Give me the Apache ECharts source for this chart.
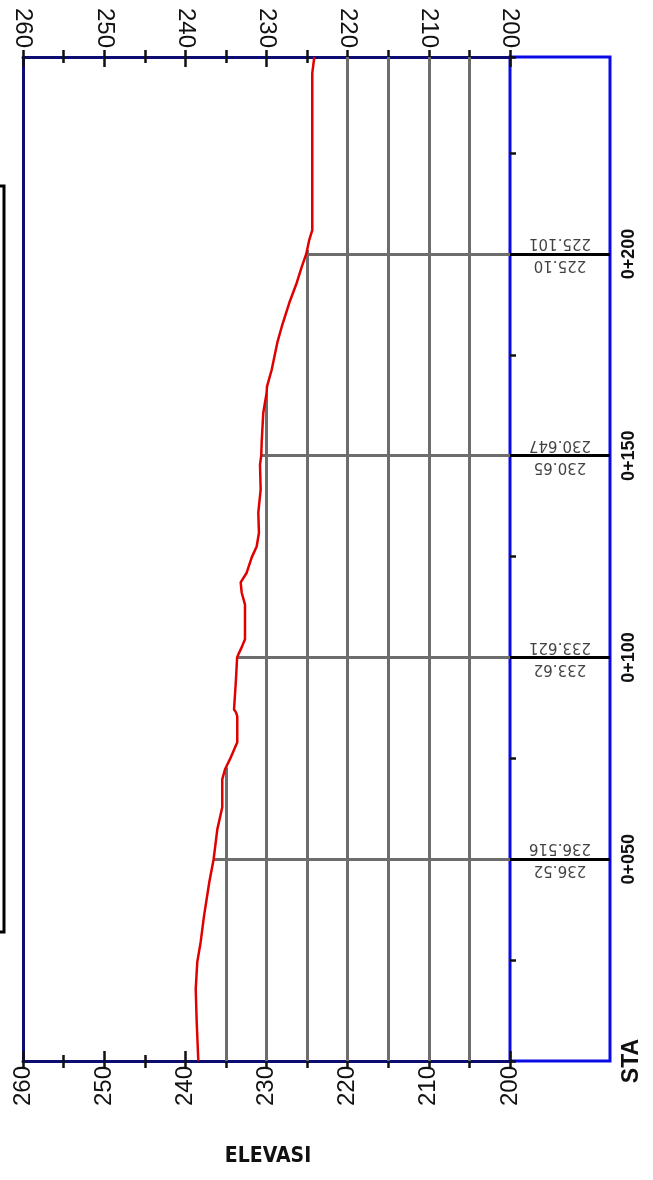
<!DOCTYPE html>
<html>
<head>
<meta charset="utf-8">
<script src="https://cdn.jsdelivr.net/npm/echarts@6/dist/echarts.min.js"></script>
<style>
  html, body { margin: 0; padding: 0; background: #ffffff; }
  #chart { width: 653px; height: 1180px; }
</style>
</head>
<body>
<div id="chart"></div>
<script>
// Long section of existing ground: chainage (m) against elevation (m)
const stations = [
  0, 9.65, 17.8, 24.5, 29.5, 35.9, 44.3, 50,
  57.4, 62.9, 69.8, 72.3, 74.8, 79.0, 85.4, 86.4, 87.1, 94.6,
  100, 100.7, 102.5, 104.5, 113.1, 116.1, 118.6, 121.0, 124.8, 127.5,
  130.9, 135.9, 141.6, 147.8, 150, 153.5, 160.6, 163.1, 165.6, 167.1,
  171.3, 178.0, 181.9, 187.9, 192.8, 196.8, 200, 203.5, 205.9, 244.8,
  248.8
];
const groundElevations = [
  238.40, 238.60, 238.72, 238.53, 238.11, 237.70, 237.05, 236.516,
  236.06, 235.45, 235.45, 235.11, 234.50, 233.60, 233.60, 233.76, 234.00, 233.76,
  233.621, 233.48, 233.06, 232.65, 232.65, 233.06, 233.18, 232.44, 231.82, 231.21,
  230.93, 231.01, 230.72, 230.80, 230.647, 230.59, 230.40, 230.19, 229.98, 229.94,
  229.36, 228.67, 228.13, 227.19, 226.28, 225.66, 225.101, 224.73, 224.36, 224.36,
  224.11
];

// Chainages written in the data band, with the ground level read there
const labelStations = [50, 100, 150, 200];
const labelElevations = [236.516, 233.621, 230.647, 225.101];

// Elevation grid hatched below the ground line
const gridLevels = [205, 210, 215, 220, 225, 230, 235];

const ELEV_MIN = 200, ELEV_MAX = 260, ELEV_STEP = 10;
const STA_MIN = 0, STA_MAX = 248.8;

const NAVY = '#0c0c72';
const BLUE = '#0a0ae6';
const GREY = '#6d6d6d';
const INK = '#111111';

// Chainage stretches where the ground stands above a given level
function stretchesAbove(level) {
  const out = [];
  let start = groundElevations[0] > level ? stations[0] : null;
  for (let i = 1; i < stations.length; i++) {
    const e0 = groundElevations[i - 1], e1 = groundElevations[i];
    const s0 = stations[i - 1], s1 = stations[i];
    if ((e0 > level) !== (e1 > level)) {
      const s = s0 + (level - e0) / (e1 - e0) * (s1 - s0);
      if (e1 > level) start = s;
      else { out.push([start, s]); start = null; }
    }
  }
  if (start !== null) out.push([start, stations[stations.length - 1]]);
  return out;
}

const hatchLines = [];
gridLevels.forEach(level => {
  stretchesAbove(level).forEach(([a, b]) => {
    hatchLines.push({ coords: [[level, a], [level, b]] });
  });
});
labelStations.forEach((s, i) => {
  hatchLines.push({ coords: [[labelElevations[i], s], [ELEV_MIN, s]] });
});

const bandLines = labelStations.map(s => ({ coords: [[0, s], [1, s]] }));

const chainageText = s => '0+' + String(s).padStart(3, '0');

const tickStyle = { color: INK, width: 2.5 };

function elevationAxis(position, inside, withLabels) {
  return {
    type: 'value', gridIndex: 0, position: position,
    min: ELEV_MIN, max: ELEV_MAX, interval: ELEV_STEP, inverse: true,
    axisLine: { show: !inside, onZero: false, lineStyle: { color: NAVY, width: 3 } },
    axisTick: { show: true, inside: inside, length: inside ? 10 : 7, lineStyle: tickStyle },
    minorTick: { show: true, splitNumber: 2, length: inside ? 6 : 7, lineStyle: tickStyle },
    axisLabel: {
      show: withLabels, rotate: 90, margin: position === 'top' ? 9 : 5, color: INK,
      fontFamily: 'Liberation Sans, Arial, sans-serif', fontSize: 24
    },
    splitLine: { show: false }, minorSplitLine: { show: false }
  };
}

const chart = echarts.init(document.getElementById('chart'), null, { renderer: 'canvas' });

chart.setOption({
  animation: false,
  backgroundColor: '#ffffff',
  grid: [
    { left: 23, top: 57, width: 487, height: 1004, outerBoundsMode: 'none', containLabel: false },
    { left: 510, top: 57, width: 100, height: 1004, outerBoundsMode: 'none', containLabel: false,
      show: true, borderColor: BLUE, borderWidth: 3, backgroundColor: 'transparent' }
  ],
  xAxis: [
    elevationAxis('top', false, true),
    elevationAxis('top', true, false),
    elevationAxis('bottom', false, true),
    elevationAxis('bottom', true, false),
    { type: 'value', gridIndex: 1, min: 0, max: 1, show: false }
  ],
  yAxis: [
    {
      type: 'value', gridIndex: 0, position: 'left', min: STA_MIN, max: STA_MAX,
      axisLine: { show: true, onZero: false, lineStyle: { color: NAVY, width: 3 } },
      axisTick: { show: false }, axisLabel: { show: false }, splitLine: { show: false }
    },
    {
      type: 'value', gridIndex: 1, position: 'left', min: STA_MIN, max: STA_MAX, interval: 25,
      axisLine: { show: false, onZero: false },
      axisTick: { show: true, inside: true, length: 6, lineStyle: { color: INK, width: 2.5 } },
      axisLabel: { show: false }, splitLine: { show: false }
    },
    {
      type: 'value', gridIndex: 1, position: 'right', min: STA_MIN, max: STA_MAX, interval: 50,
      axisLine: { show: false, onZero: false }, axisTick: { show: false }, splitLine: { show: false },
      axisLabel: {
        show: true, rotate: 90, margin: 10, color: INK,
        fontFamily: 'Liberation Sans, Arial, sans-serif', fontSize: 18, fontWeight: 'bold',
        formatter: v => {
          if (v === 0) return '{sta|STA}';
          return labelStations.indexOf(v) >= 0 ? chainageText(v) : '';
        },
        rich: { sta: { fontSize: 23, fontWeight: 'bold', fontFamily: 'Liberation Sans, Arial, sans-serif', color: INK } }
      }
    }
  ],
  graphic: [
    {
      type: 'rect', silent: true,
      shape: { x: -20, y: 186, width: 24, height: 746 },
      style: { fill: 'none', stroke: '#000000', lineWidth: 3 }
    },
    {
      type: 'text', silent: true, x: 268, y: 1157,
      style: {
        text: 'ELEVASI', fill: INK, align: 'center', verticalAlign: 'middle',
        fontFamily: '"Liberation Sans Narrow", "DejaVu Sans Condensed", sans-serif',
        fontSize: 21, fontWeight: 'bold'
      }
    }
  ],
  series: [
    {
      name: 'grid-hatch', type: 'lines', coordinateSystem: 'cartesian2d',
      xAxisIndex: 0, yAxisIndex: 0, silent: true, z: 2,
      lineStyle: { color: GREY, width: 3, opacity: 1, curveness: 0 },
      data: hatchLines
    },
    {
      name: 'ground', type: 'line', xAxisIndex: 0, yAxisIndex: 0, z: 5,
      showSymbol: false, silent: true,
      lineStyle: { color: '#e00000', width: 2.5 },
      data: stations.map((s, i) => [groundElevations[i], s])
    },
    {
      name: 'band-lines', type: 'lines', coordinateSystem: 'cartesian2d',
      xAxisIndex: 4, yAxisIndex: 1, silent: true, z: 3,
      lineStyle: { color: '#000000', width: 3, opacity: 1, curveness: 0 },
      data: bandLines
    },
    {
      // three-decimal level, written upside down above the chainage line
      name: 'level-exact', type: 'scatter', xAxisIndex: 4, yAxisIndex: 1,
      symbolSize: 0, silent: true, z: 4,
      data: labelStations.map((s, i) => [0.5, s, labelElevations[i]]),
      label: {
        show: true, position: 'inside', rotate: 180, offset: [0, 11],
        align: 'center', verticalAlign: 'middle',
        fontFamily: 'DejaVu Sans, sans-serif', fontSize: 15, color: INK,
        formatter: p => p.value[2].toFixed(3)
      }
    },
    {
      // rounded level, written upside down below the chainage line
      name: 'level-rounded', type: 'scatter', xAxisIndex: 4, yAxisIndex: 1,
      symbolSize: 0, silent: true, z: 4,
      data: labelStations.map((s, i) => [0.5, s, labelElevations[i]]),
      label: {
        show: true, position: 'inside', rotate: 180, offset: [0, -11],
        align: 'center', verticalAlign: 'middle',
        fontFamily: 'DejaVu Sans, sans-serif', fontSize: 15, color: INK,
        formatter: p => p.value[2].toFixed(2)
      }
    }
  ]
});
</script>
</body>
</html>
